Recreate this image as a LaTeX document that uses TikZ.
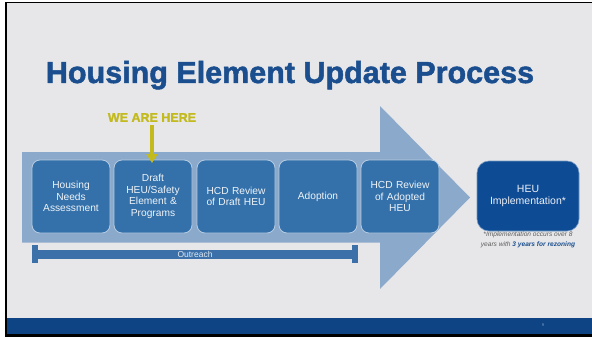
\documentclass[tikz,border=0pt]{standalone}
\usepackage{fontspec}
\setmainfont{Liberation Sans}
\newfontfamily\heavyfont[FakeBold=1.6]{Liberation Sans Bold}
\usetikzlibrary{arrows.meta}
\definecolor{bgc}{HTML}{E7E7E9}
\definecolor{titleblue}{HTML}{1A4E8E}
\definecolor{arrowblue}{HTML}{8BA9CB}
\definecolor{boxblue}{HTML}{3470AA}
\definecolor{boxedge}{HTML}{B4CBE2}
\definecolor{heublue}{HTML}{0E4B95}
\definecolor{bandblue}{HTML}{0E4483}
\definecolor{hereyellow}{HTML}{C3BA1E}
\definecolor{barblue}{HTML}{3B70A9}
\definecolor{notegray}{HTML}{5E5E5E}
\begin{document}
\begin{tikzpicture}[x=1pt,y=-1pt,
  stepbox/.style={fill=boxblue,draw=boxedge,line width=0.8pt,rounded corners=8pt,
    minimum width=78pt,minimum height=73pt,text width=74pt,align=center,
    text=white!92!boxblue,font=\fontsize{10.2}{11.7}\selectfont,inner sep=0pt},
  capbar/.style={fill=barblue,draw=none}]
\useasboundingbox (0,0) rectangle (592,337);
% background and frame
\fill[white] (0,0) rectangle (592,337);
\fill[bgc] (7,3.3) rectangle (592,334);
\fill[black] (5,1.7) rectangle (592,3.3);
\fill[black] (5,1.7) rectangle (7.3,337);
\fill[black] (5,334) rectangle (592,337);
\fill[bandblue] (7.3,318) rectangle (592,334);
\node[text=boxedge!70!bandblue,font=\fontsize{4}{4}\selectfont] (pnum) at (543,325) {9};
% title
\node[anchor=base,text=titleblue,font=\heavyfont\fontsize{30.5}{32}\selectfont] (title) at (290,83) {Housing Element Update Process};
% big arrow
\fill[arrowblue] (22,152) -- (380,152) -- (380,106) -- (470,197.5) -- (380,289) -- (380,242.5) -- (22,242.5) -- cycle;
% step boxes
\node[stepbox] (b1) at (71,196.5) {Housing\\Needs\\Assessment};
\node[stepbox] (b2) at (153,196.5) {Draft\\HEU/Safety\\Element \&\\Programs};
\node[stepbox] (b3) at (236,196.5) {HCD Review\\of Draft HEU};
\node[stepbox] (b4) at (318,196.5) {Adoption};
\node[stepbox] (b5) at (400,196.5) {HCD Review\\of Adopted\\HEU};
% implementation box
\node[fill=heublue,draw=boxedge!60!heublue,line width=0.6pt,rounded corners=12pt,minimum width=102pt,minimum height=70pt,
  text width=100pt,align=center,text=white!92!heublue,font=\fontsize{10.5}{11.7}\selectfont,inner sep=0pt] (heu) at (528,196) {HEU\\Implementation*};
\node[anchor=north,align=center,text=notegray,font=\itshape\fontsize{6.6}{9.6}\selectfont,inner sep=0pt] (note) at (528,232)
  {*Implementation occurs over 8\\years with {\bfseries\color{titleblue}3 years for rezoning}};
% we are here
\node[text=hereyellow,font=\heavyfont\fontsize{12.5}{13}\selectfont] (here) at (152,117.5) {WE ARE HERE};
\coordinate (hereend) at (152,163);
\draw[hereyellow,line width=3.6pt,-{Triangle[width=11pt,length=9pt]}] (here.south) -- (hereend);
% outreach bar
\fill[capbar] (32,249.5) rectangle (357,258.5);
\fill[capbar] (32,245) rectangle (37.5,263);
\fill[capbar] (352,245) rectangle (358,263);
\node[text=white!85!barblue,font=\fontsize{8.5}{9}\selectfont,inner sep=0pt] (outreach) at (195,254) {Outreach};
\end{tikzpicture}
\end{document}
